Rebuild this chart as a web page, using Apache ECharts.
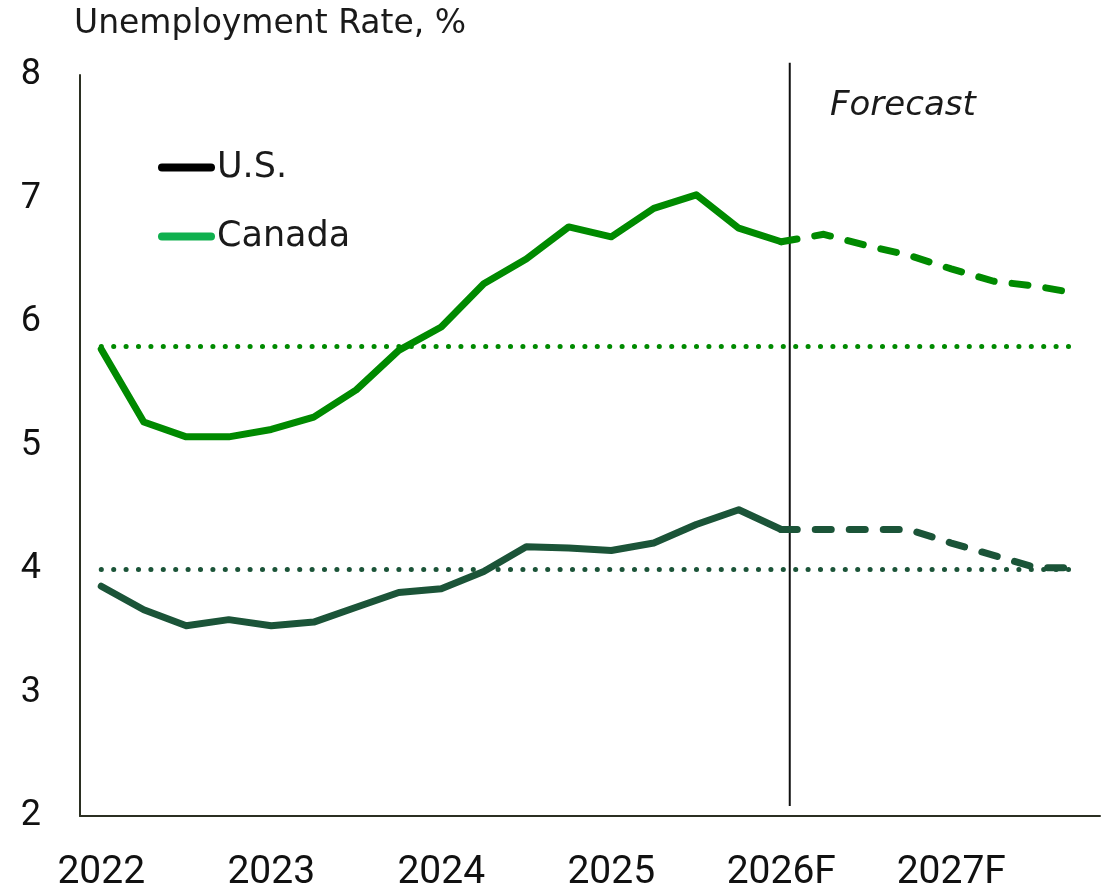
<!DOCTYPE html>
<html>
<head>
<meta charset="utf-8">
<script src="https://cdn.jsdelivr.net/npm/echarts@6/dist/echarts.min.js"></script>
<style>
  html, body { margin: 0; padding: 0; background: #ffffff; overflow: hidden; }
  #chart { width: 1109px; height: 893px; }
</style>
</head>
<body>
<div id="chart"></div>
<script>
// Quarterly categories, 2022 Q1 through 2027 Q4
const quarters = [
  '2022Q1','2022Q2','2022Q3','2022Q4',
  '2023Q1','2023Q2','2023Q3','2023Q4',
  '2024Q1','2024Q2','2024Q3','2024Q4',
  '2025Q1','2025Q2','2025Q3','2025Q4',
  '2026Q1','2026Q2','2026Q3','2026Q4',
  '2027Q1','2027Q2','2027Q3','2027Q4'
];
const yearLabels = ['2022', '2023', '2024', '2025', '2026F', '2027F'];

// Unemployment rate, % (actual through 2026Q1, forecast afterwards)
const usActual = [3.86, 3.67, 3.54, 3.59, 3.54, 3.57, 3.69, 3.81, 3.84, 3.98, 4.18, 4.17, 4.15, 4.21, 4.36, 4.48, 4.32];
const usForecast = [4.32, 4.32, 4.32, 4.32, 4.21, 4.11, 4.01, 4.01];
const canadaActual = [5.78, 5.19, 5.07, 5.07, 5.13, 5.23, 5.45, 5.77, 5.96, 6.31, 6.51, 6.77, 6.69, 6.92, 7.03, 6.76, 6.65];
const canadaForecast = [6.65, 6.71, 6.62, 6.54, 6.43, 6.33, 6.29, 6.23];

// Long-run average levels (dotted reference lines)
const usAverage = 4.0;
const canadaAverage = 5.8;

const US_COLOR = '#1b5438';
const CA_COLOR = '#008a00';
const AXIS_COLOR = '#2b2f22';
const TEXT_FONT = '"DejaVu Sans", sans-serif';
const NUM_FONT = 'Roboto, sans-serif';

const forecastStart = usActual.length - 1;

function padActual(arr) {
  return quarters.map((q, i) => (i < arr.length ? arr[i] : null));
}
function padForecast(arr) {
  return quarters.map((q, i) => (i >= forecastStart && i - forecastStart < arr.length ? arr[i - forecastStart] : null));
}

const dotted = { type: [0.1, 12.3], cap: 'round', width: 5 };

const chart = echarts.init(document.getElementById('chart'), null, { renderer: 'canvas', width: 1109, height: 893 });

chart.setOption({
  animation: false,
  backgroundColor: '#ffffff',
  textStyle: { fontFamily: TEXT_FONT },
  grid: { left: 80, right: 9, top: 75, bottom: 71, containLabel: false },
  title: {
    text: 'Unemployment Rate, %',
    left: 74, top: 8, padding: 0,
    textStyle: { fontFamily: TEXT_FONT, fontSize: 33, fontWeight: 'normal', color: '#1a1a1a' }
  },
  legend: {
    orient: 'vertical',
    left: 158, top: 150, padding: 0,
    itemWidth: 57, itemHeight: 8,
    itemGap: 34,
    selectedMode: false,
    icon: 'path://M4 0H53A4 4 0 0 1 53 8H4A4 4 0 0 1 4 0Z',
    textStyle: { fontFamily: TEXT_FONT, fontSize: 35, color: '#1a1a1a', padding: [0, 0, 0, -3] },
    data: [
      { name: 'U.S.', itemStyle: { color: '#000000' } },
      { name: 'Canada', itemStyle: { color: '#10b04f' } }
    ]
  },
  xAxis: [
    {
      type: 'category',
      data: quarters,
      boundaryGap: true,
      axisLine: { show: true, onZero: false, lineStyle: { color: AXIS_COLOR, width: 2 } },
      axisTick: { show: false },
      splitLine: { show: false },
      axisLabel: {
        interval: 3,
        margin: 38,
        fontFamily: NUM_FONT, fontSize: 39, color: '#111111',
        formatter: (v, i) => (i % 4 === 0 ? yearLabels[i / 4] : '')
      }
    },
    {
      // Helper axis for the forecast divider, aligned with category centres
      type: 'value', show: false,
      min: -0.5, max: quarters.length - 0.5
    }
  ],
  yAxis: {
    type: 'value',
    min: 2, max: 8, interval: 1,
    axisLine: { show: true, onZero: false, lineStyle: { color: AXIS_COLOR, width: 2 } },
    axisTick: { show: false },
    splitLine: { show: false },
    axisLabel: { margin: 39, fontFamily: NUM_FONT, fontSize: 36, color: '#111111' }
  },
  graphic: [
    {
      type: 'text', left: 830, top: 89,
      style: { text: 'Forecast', font: 'italic 34px "DejaVu Sans", sans-serif', fill: '#1a1a1a' }
    }
  ],
  series: [
    {
      // Average reference levels
      name: 'averages', type: 'line', data: [], silent: true, z: 1,
      markLine: {
        silent: true, symbol: 'none', label: { show: false },
        data: [
          [{ coord: [0, canadaAverage], lineStyle: Object.assign({ color: CA_COLOR }, dotted) },
           { coord: [quarters.length - 1, canadaAverage] }],
          [{ coord: [0, usAverage], lineStyle: Object.assign({ color: US_COLOR }, dotted) },
           { coord: [quarters.length - 1, usAverage] }]
        ]
      }
    },
    {
      name: 'forecast-divider', type: 'line', xAxisIndex: 1, silent: true, clip: false,
      symbol: 'none', z: 3,
      lineStyle: { color: '#111111', width: 2 },
      data: [[forecastStart + 0.2, 8.1], [forecastStart + 0.2, 2.08]]
    },
    {
      name: 'U.S.', type: 'line', data: padActual(usActual),
      symbol: 'none', z: 4,
      itemStyle: { color: US_COLOR },
      lineStyle: { color: US_COLOR, width: 7, cap: 'round', join: 'round' }
    },
    {
      name: 'U.S. forecast', type: 'line', data: padForecast(usForecast),
      symbol: 'none', z: 4,
      itemStyle: { color: US_COLOR },
      lineStyle: { color: US_COLOR, width: 7, type: [16, 18], cap: 'round', join: 'round' }
    },
    {
      name: 'Canada', type: 'line', data: padActual(canadaActual),
      symbol: 'none', z: 4,
      itemStyle: { color: CA_COLOR },
      lineStyle: { color: CA_COLOR, width: 7, cap: 'round', join: 'round' }
    },
    {
      name: 'Canada forecast', type: 'line', data: padForecast(canadaForecast),
      symbol: 'none', z: 4,
      itemStyle: { color: CA_COLOR },
      lineStyle: { color: CA_COLOR, width: 7, type: [16, 18], cap: 'round', join: 'round' }
    }
  ]
});
</script>
</body>
</html>
